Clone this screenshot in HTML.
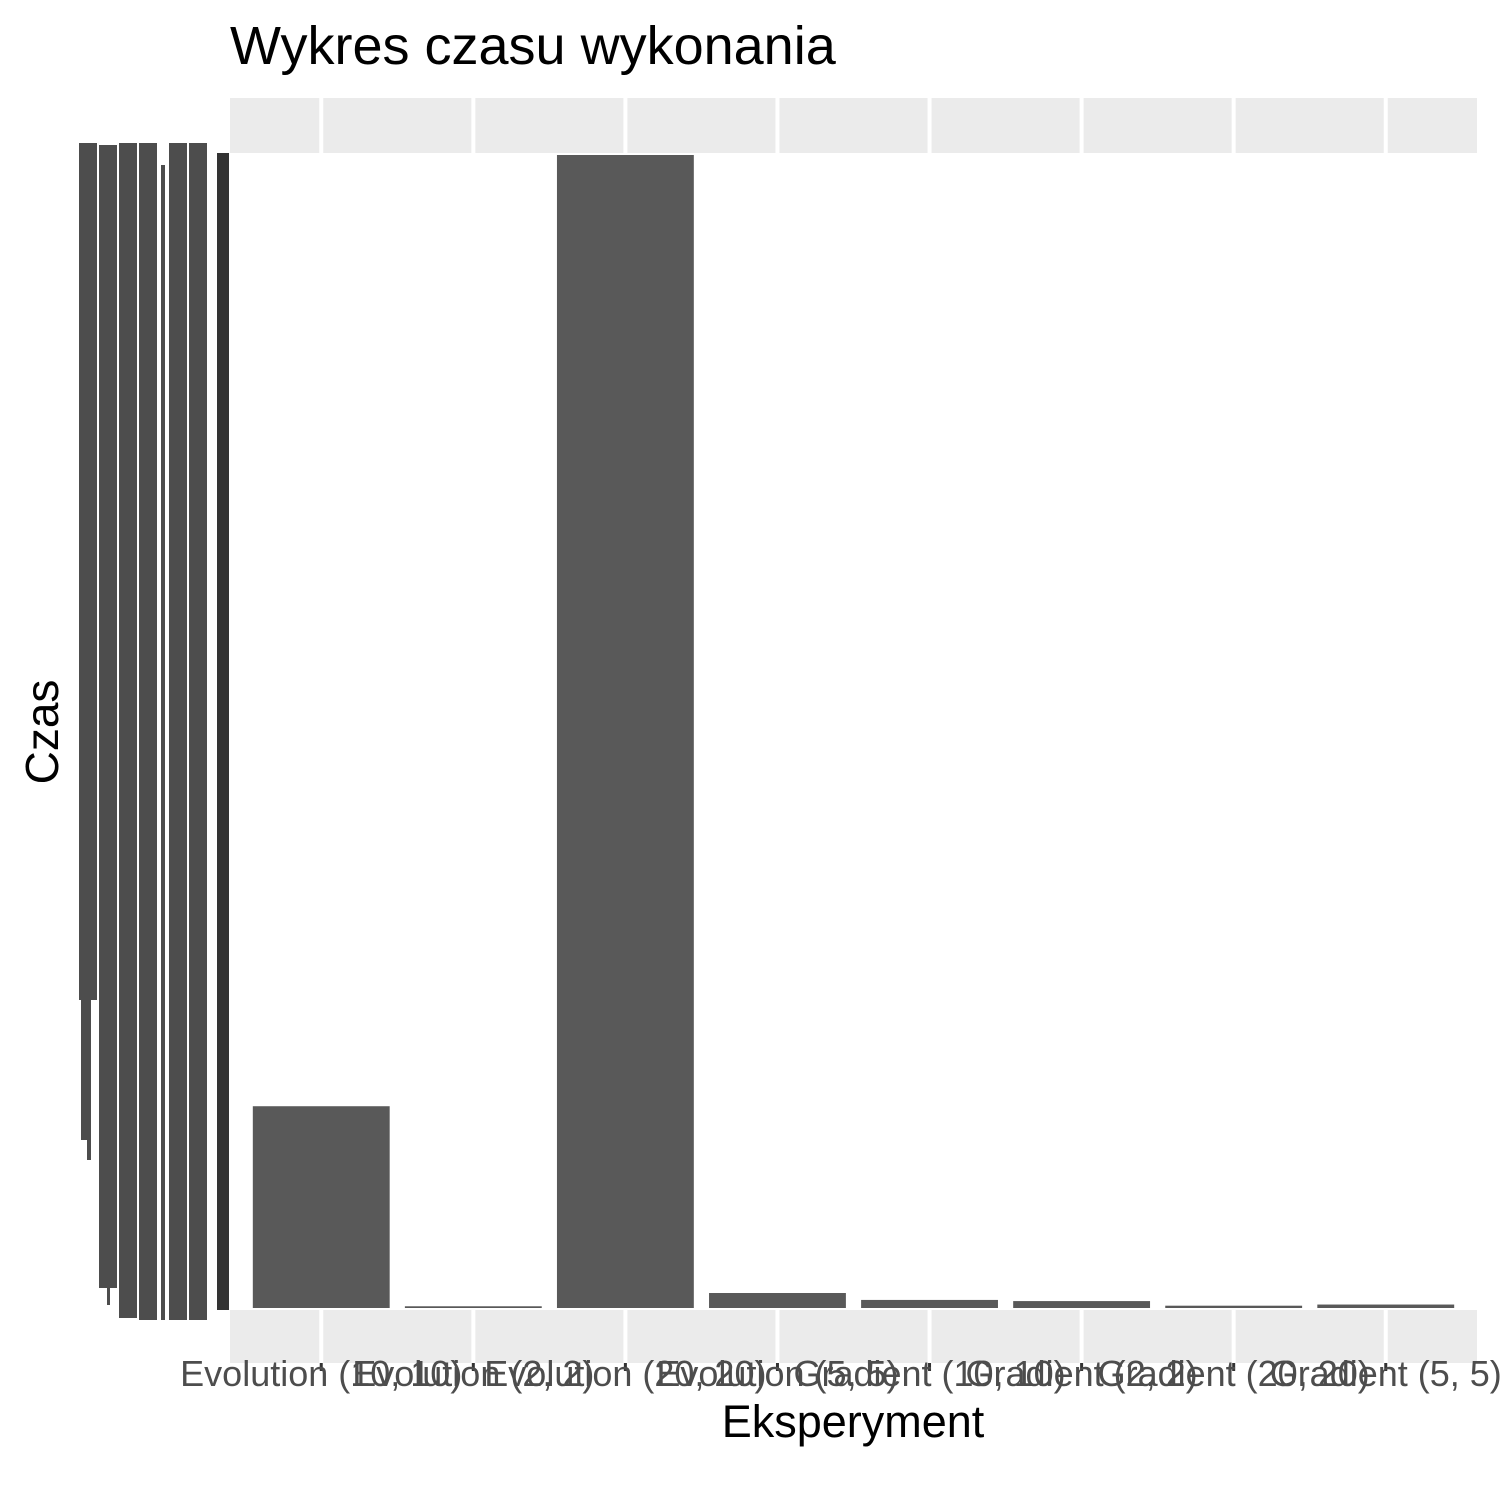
<!DOCTYPE html>
<html><head><meta charset="utf-8"><style>
html,body{margin:0;padding:0;background:#fff;}
svg text{font-family:"Liberation Sans",Arial,sans-serif;}
</style></head><body>
<svg id="chart" width="1500" height="1500" xmlns="http://www.w3.org/2000/svg">
<rect x="0" y="0" width="1500" height="1500" fill="#fff"/>
<text x="230" y="64" font-size="54" fill="#000">Wykres czasu wykonania</text>
<rect x="230" y="98" width="1247" height="55" fill="#ebebeb"/>
<rect x="230" y="1310" width="1247" height="53" fill="#ebebeb"/>
<g id="grid"></g>
<g id="bars"></g>
<g id="yblob">
<rect x="79" y="143" width="18" height="857" fill="#4d4d4d"/>
<rect x="81" y="1000" width="10" height="140" fill="#4d4d4d"/>
<rect x="87" y="1140" width="4" height="20" fill="#4d4d4d"/>
<rect x="99" y="145" width="18" height="1143" fill="#4d4d4d"/>
<rect x="107" y="1288" width="3" height="17" fill="#4d4d4d"/>
<rect x="119" y="143" width="18" height="1175" fill="#4d4d4d"/>
<rect x="139" y="143" width="18" height="1177" fill="#4d4d4d"/>
<rect x="161" y="165" width="4" height="1155" fill="#4d4d4d"/>
<rect x="169" y="143" width="18" height="1177" fill="#4d4d4d"/>
<rect x="189" y="143" width="18" height="1177" fill="#4d4d4d"/>
<rect x="217" y="153" width="12" height="1157" fill="#333333"/>
</g>
<g id="xlabels"></g>
<text x="853" y="1437" font-size="45" text-anchor="middle" fill="#000">Eksperyment</text>
<text transform="translate(58,732) rotate(-90)" font-size="46" text-anchor="middle" fill="#000">Czas</text>
</svg>
<script>
const categories = ["Evolution (10, 10)","Evolution (2, 2)","Evolution (20, 20)","Evolution (5, 5)","Gradient (10, 10)","Gradient (2, 2)","Gradient (20, 20)","Gradient (5, 5)"];
const values = [175, 1.5, 1000, 13, 7, 6, 2, 3];
const yMax = 1000;

const NS = "http://www.w3.org/2000/svg";
const x0 = 230, x1 = 1477, y0 = 1308, yTop = 155;
const step = (x1 - x0) / (categories.length + 0.2);
function xScale(i){ return x0 + step * 0.6 + step * i; }
function yScale(v){ return y0 - (v / yMax) * (y0 - yTop); }
const barW = step * 0.9;
const grid = document.getElementById('grid');
const bars = document.getElementById('bars');
const xl = document.getElementById('xlabels');
categories.forEach((c, i) => {
  const cx = xScale(i);
  [[98,153],[1310,1363]].forEach(([a,b]) => {
    const l = document.createElementNS(NS,'line');
    l.setAttribute('x1',cx); l.setAttribute('x2',cx); l.setAttribute('y1',a); l.setAttribute('y2',b);
    l.setAttribute('stroke','#fff'); l.setAttribute('stroke-width','4');
    
    
    grid.appendChild(l);
  });
  const r = document.createElementNS(NS,'rect');
  const top = yScale(values[i]);
  r.setAttribute('x', cx - barW/2); r.setAttribute('width', barW);
  r.setAttribute('y', top); r.setAttribute('height', Math.max(y0 - top, 1));
  r.setAttribute('fill', '#595959');
  
  
  bars.appendChild(r);
  const t = document.createElementNS(NS,'line');
  t.setAttribute('x1',cx); t.setAttribute('x2',cx); t.setAttribute('y1',1363); t.setAttribute('y2',1371);
  t.setAttribute('stroke','#333'); t.setAttribute('stroke-width','3');
  
  
  xl.appendChild(t);
  const tx = document.createElementNS(NS,'text');
  tx.setAttribute('x', cx); tx.setAttribute('y', 1386);
  tx.setAttribute('text-anchor','middle'); tx.setAttribute('font-size','36'); tx.setAttribute('fill','#4d4d4d');
  tx.textContent = c;
  
  
  xl.appendChild(tx);
});
</script>
</body></html>
